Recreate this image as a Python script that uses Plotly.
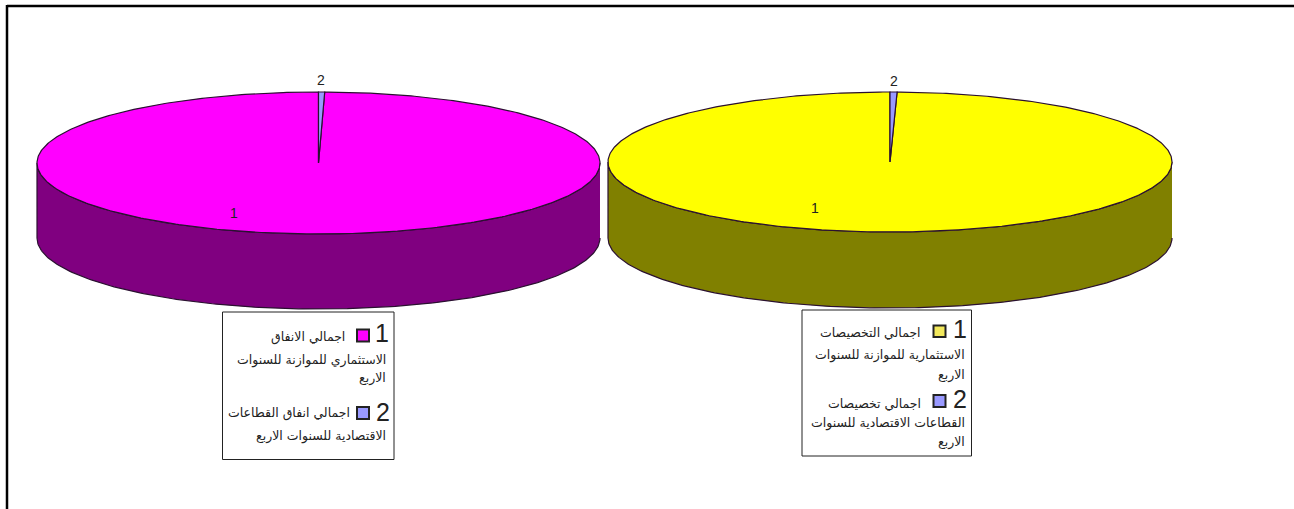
import numpy as np
import plotly.graph_objects as go

# Shares of the two categories in each pie
spending_values = [99.65, 0.35]
allocation_values = [99.6, 0.4]
slice_labels = ["1", "2"]

spending_legend_1 = ["اجمالي الانفاق", "الاستثماري للموازنة للسنوات", "الاربع"]
spending_legend_2 = ["اجمالي انفاق القطاعات", "الاقتصادية للسنوات الاربع"]
allocation_legend_1 = ["اجمالي التخصيصات", "الاستثمارية للموازنة للسنوات", "الاربع"]
allocation_legend_2 = ["اجمالي تخصيصات", "القطاعات الاقتصادية للسنوات", "الاربع"]

MAGENTA, PURPLE = "#FF00FF", "#800080"
YELLOW, OLIVE = "#FFFF00", "#808000"
PERIWINKLE = "#9999FF"
EDGE = "#2a1030"
TEXT = "#222222"
ARABIC = "DejaVu Sans"
LATIN = "Liberation Sans"
BODY_SIZE = 12.5
DIGIT_SIZE = 25

fig = go.Figure()


def polygon(xs, ys, fill):
    fig.add_trace(go.Scatter(
        x=xs, y=ys, mode="lines", fill="toself", fillcolor=fill,
        line=dict(color=EDGE, width=1.2), hoverinfo="skip", showlegend=False,
    ))


def tilted_pie(values, cx, cy, rx, ry, depth, top, side):
    """Pie with a depth wall; the small slice starts at twelve o'clock, going clockwise."""
    sweep = 2 * np.pi * values[1] / sum(values)
    wall = np.linspace(np.pi / 2, 3 * np.pi / 2, 200)
    wall_x = cx + rx * np.sin(wall)
    wall_y = cy - ry * np.cos(wall)
    polygon(np.r_[wall_x, wall_x[::-1]], np.r_[wall_y, wall_y[::-1] + depth], side)

    main = np.linspace(sweep, 2 * np.pi, 500)
    polygon(np.r_[cx, cx + rx * np.sin(main), cx],
            np.r_[cy, cy - ry * np.cos(main), cy], top)
    small = np.linspace(0, sweep, 12)
    polygon(np.r_[cx, cx + rx * np.sin(small), cx],
            np.r_[cy, cy - ry * np.cos(small), cy], PERIWINKLE)


tilted_pie(spending_values, 318.5, 163, 281.5, 71, 75, MAGENTA, PURPLE)
tilted_pie(allocation_values, 890, 162, 282, 70, 76, YELLOW, OLIVE)


def note(x, y, text, size, family, anchor="center"):
    fig.add_annotation(x=x, y=y, text=text, showarrow=False, xanchor=anchor, yanchor="middle",
                       font=dict(size=size, family=family, color=TEXT))


def box(x0, y0, x1, y1, fill, width):
    fig.add_shape(type="rect", x0=x0, y0=y0, x1=x1, y1=y1, fillcolor=fill,
                  line=dict(color="#222222", width=width))


# Slice numbers
note(321, 80, slice_labels[1], 14, LATIN)
note(234, 213, slice_labels[0], 14, LATIN)
note(894, 81, slice_labels[1], 14, LATIN)
note(815, 208, slice_labels[0], 14, LATIN)

# Left legend
box(222.5, 312, 394, 459.5, "white", 1)
note(382, 333, slice_labels[0], DIGIT_SIZE, LATIN)
box(357, 329.5, 369, 341.5, MAGENTA, 2)
note(347, 337, spending_legend_1[0], BODY_SIZE, ARABIC, "right")
note(388, 360, spending_legend_1[1], BODY_SIZE, ARABIC, "right")
note(388, 378, spending_legend_1[2], BODY_SIZE, ARABIC, "right")
note(383, 412, slice_labels[1], DIGIT_SIZE, LATIN)
box(357, 407, 369, 419, PERIWINKLE, 2)
note(352, 413, spending_legend_2[0], BODY_SIZE, ARABIC, "right")
note(388, 436, spending_legend_2[1], BODY_SIZE, ARABIC, "right")

# Right legend
box(802, 310, 971.5, 456, "white", 1)
note(960, 329, slice_labels[0], DIGIT_SIZE, LATIN)
box(933.5, 325.5, 945.5, 337, "#F2E85C", 2)
note(923, 332, allocation_legend_1[0], BODY_SIZE, ARABIC, "right")
note(967, 355, allocation_legend_1[1], BODY_SIZE, ARABIC, "right")
note(967, 375, allocation_legend_1[2], BODY_SIZE, ARABIC, "right")
note(960, 399, slice_labels[1], DIGIT_SIZE, LATIN)
box(933.5, 395, 945.5, 407, PERIWINKLE, 2)
note(923, 403, allocation_legend_2[0], BODY_SIZE, ARABIC, "right")
note(967, 423, allocation_legend_2[1], BODY_SIZE, ARABIC, "right")
note(967, 442, allocation_legend_2[2], BODY_SIZE, ARABIC, "right")

# Page rule along the top and left edges
fig.add_shape(type="line", x0=7, y0=6, x1=1294, y1=6, line=dict(color="black", width=2.5))
fig.add_shape(type="line", x0=7, y0=5, x1=7, y1=509, line=dict(color="black", width=2.5))

fig.update_layout(
    width=1294, height=509, margin=dict(l=0, r=0, t=0, b=0),
    paper_bgcolor="white", plot_bgcolor="white", showlegend=False,
    xaxis=dict(range=[0, 1294], visible=False, fixedrange=True),
    yaxis=dict(range=[509, 0], visible=False, fixedrange=True),
)
fig.write_html("out.html", config=dict(displayModeBar=False))
